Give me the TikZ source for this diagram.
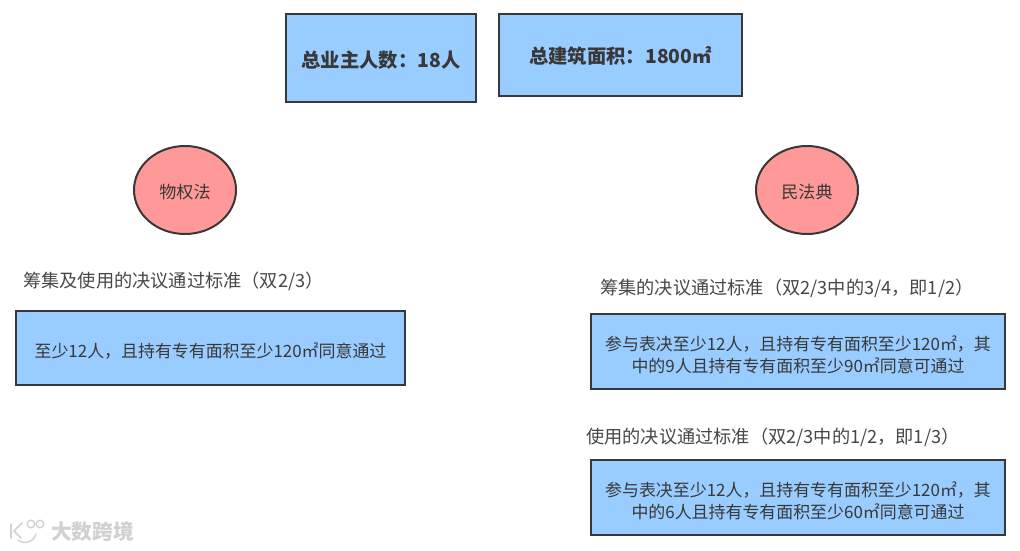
\documentclass[tikz,border=0pt]{standalone}
\usepackage{fontspec}
\setmainfont{Noto Sans CJK SC}
\usetikzlibrary{shapes.geometric}
\definecolor{blueFill}{HTML}{99CCFF}
\definecolor{redFill}{HTML}{FF9999}
\tikzset{
 x=0.75pt,y=-0.75pt,
 bluebox/.style={draw=black!78,line width=1.5pt,fill=blueFill,inner sep=0pt,anchor=center,align=center,text=black!78},
 titlebox/.style={bluebox,font=\fontsize{14.5}{14.5}\selectfont\bfseries},
 bodybox/.style={bluebox,minimum height=56pt,font=\fontsize{12.7}{16.5}\selectfont},
 redcirc/.style={draw=black!78,line width=1.5pt,fill=redFill,ellipse,minimum width=76.5pt,minimum height=66pt,inner sep=0pt,text=black!78,font=\fontsize{12.8}{12.8}\selectfont},
 lbl/.style={inner sep=0pt,anchor=west,text=black!72,font=\fontsize{13.65}{13.65}\selectfont},
 wmark/.style={inner sep=0pt,anchor=west,text=black!18,font=\fontsize{15.5}{15.5}\selectfont\bfseries},
}
\newcommand{\st}[1]{\rule{0pt}{#1pt}}
\begin{document}
\begin{tikzpicture}
\useasboundingbox (0,0) rectangle (1020,550);
\fill[white] (0,0) rectangle (1020,550);
\node[titlebox,minimum width=143pt,minimum height=66.5pt] (owners) at (381,58) {\st{16}总业主人数：18人};
\node[titlebox,minimum width=182pt,minimum height=62pt] (area) at (620.5,55) {\st{14.8}总建筑面积：1800㎡};
\node[redcirc] (wq) at (185,190) {\st{14}物权法};
\node[redcirc] (mfd) at (807,190) {\st{14}民法典};
\node[lbl] (l1) at (23,281) {筹集及使用的决议通过标准（双2/3）};
\node[lbl] (l2) at (600,288) {筹集的决议通过标准（双2/3中的3/4，即1/2）};
\node[lbl] (l3) at (586,437) {使用的决议通过标准（双2/3中的1/2，即1/3）};
\node[bodybox,minimum width=292pt] (b1) at (210.5,348) {\st{15}至少12人，且持有专有面积至少120㎡同意通过};
\node[bodybox,minimum width=311pt] (b2) at (798,351.5) {\st{16.5}参与表决至少12人，且持有专有面积至少120㎡，其\\中的9人且持有专有面积至少90㎡同意可通过};
\node[bodybox,minimum width=311pt] (b3) at (798,497.5) {\st{16.5}参与表决至少12人，且持有专有面积至少120㎡，其\\中的6人且持有专有面积至少60㎡同意可通过};
\node[wmark] (wm) at (51,532) {大数跨境};
\draw[black!18,line width=1.3pt,line cap=round] (11,524)--(11,538) (22,523)--(14,531)--(21,538);
\draw[black!18,line width=1pt,line cap=round] (18,540) .. controls (24,545) and (34,542) .. (36,534);
\draw[black!18,line width=1pt] (31,524) circle (3.8) (40,524) circle (3.8);
\end{tikzpicture}
\end{document}
